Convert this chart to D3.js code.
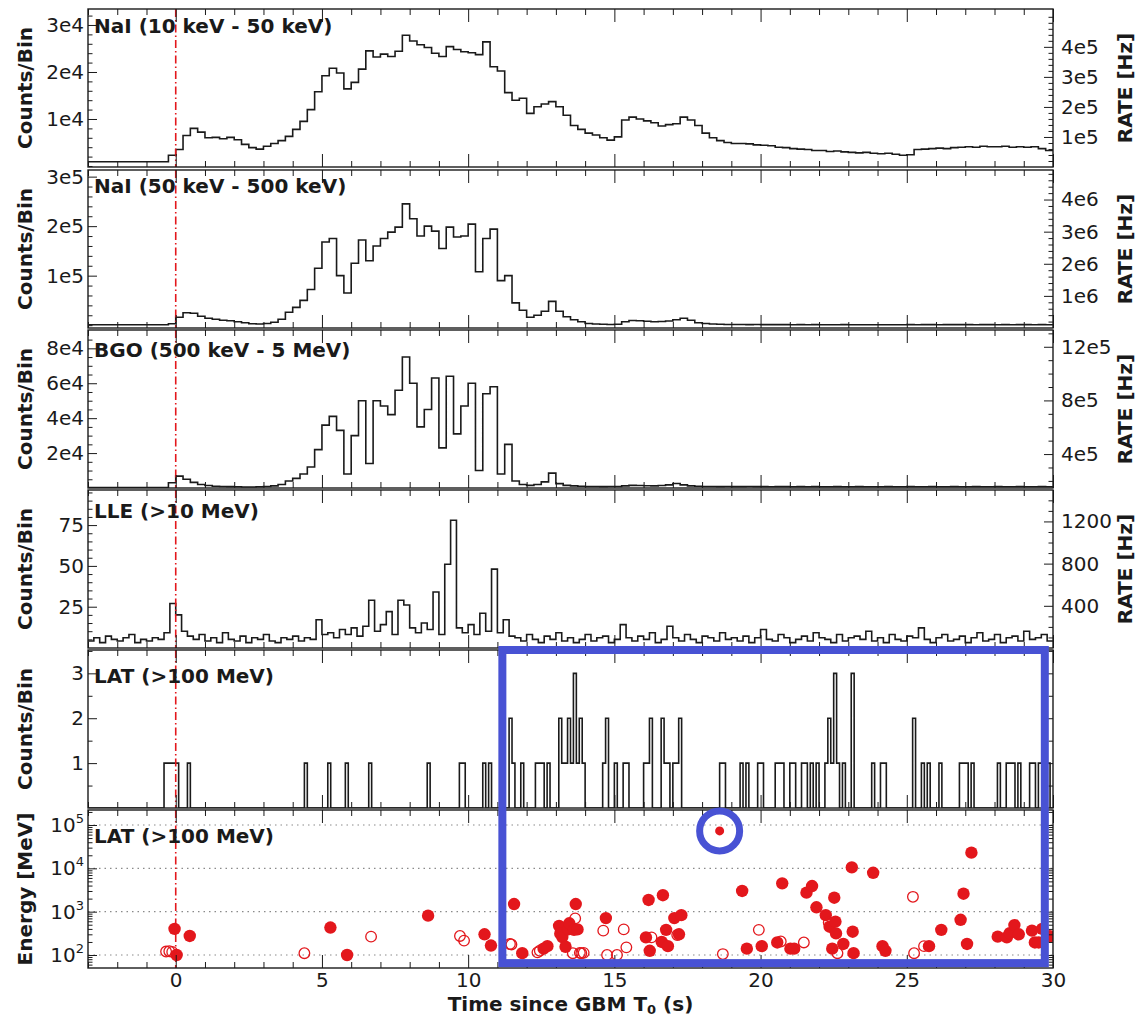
<!DOCTYPE html>
<html>
<head>
<meta charset="utf-8">
<script src="https://cdn.jsdelivr.net/npm/d3@7/dist/d3.min.js"></script>
<style>
  body { margin: 0; background: #fff; }
  text { font-family: "DejaVu Sans", sans-serif; fill: #1a1a1a; }
</style>
</head>
<body>
<svg id="chart" width="1143" height="1020"></svg>
<script>
/////////////////////////////////////////////////////////
// DATA
/////////////////////////////////////////////////////////

// GBM light curves, 0.25 s bins starting at -3 s
var gbmStart = -3, gbmWidth = 0.25;

var nai1Counts = [
  900,900,900,900,900,900,900,900,900,900,900,2300,
  3500,6500,8000,7200,6000,6100,5800,6100,5600,4600,3900,3600,
  4200,4800,5400,6300,7800,9500,12000,15800,19200,20800,19800,16400,
  17800,20600,24500,23200,23800,23300,24400,27800,26600,25800,25200,24000,
  23300,25400,24800,24300,24100,23700,26400,21100,20200,15600,14000,14400,
  11200,12600,13200,13700,12600,10800,8600,7800,7000,6600,6000,5500,
  6200,9800,10400,10000,9600,9200,8500,8800,9000,10400,9800,8600,
  7000,6000,5400,5000,4800,4800,4700,4500,4400,4300,4000,3900,
  3700,3600,3500,3300,3300,3100,3200,3000,2900,2800,2900,2700,
  2600,2700,2500,2300,2400,3500,3600,3700,3800,3700,3900,4000,
  4100,4000,4200,4100,4100,4200,4000,4100,4000,4100,3700,3300
];

var nai2Counts = [
  1000,1000,1000,1000,1000,1000,1000,1000,1000,1000,1000,3000,
  16000,25000,24000,18000,14000,12000,10000,9000,7000,5000,3000,2500,
  3500,6000,12000,26000,36000,50000,72000,115000,168000,175000,100000,65000,
  125000,172000,130000,160000,175000,188000,198000,245000,215000,180000,200000,190000,
  155000,198000,178000,180000,204000,108000,175000,194000,90000,100000,45000,30000,
  16000,20000,28000,48000,28000,17000,11000,7000,3500,2500,1800,1500,
  2000,7000,9500,9000,8000,7000,7500,8500,11000,14000,10000,5000,
  3500,2500,2000,1500,1500,1300,1200,1300,1200,1100,1200,1100,
  1000,1100,1000,1200,1000,900,1000,1100,1000,900,1000,1000,
  900,1000,900,1000,1100,1000,1200,1100,1000,1100,1200,1100,
  1100,1000,1200,1100,1000,1100,1000,1200,1100,1000,1100,1000
];

var bgoCounts = [
  300,300,300,300,300,300,300,300,300,300,300,3000,
  6800,5000,3200,2000,1400,1000,900,800,700,600,600,700,
  900,1200,2000,4000,5500,8000,12000,22000,36000,41000,33000,8000,
  30000,50000,14000,50000,47000,42000,56000,75000,60000,35000,45000,63000,
  23000,64000,31000,47000,60000,10000,54000,58000,8000,25000,4000,2000,
  1500,2000,3500,8500,2500,1500,1200,1000,900,900,800,900,
  900,1200,1500,1400,1300,1200,1400,1800,2600,1800,1200,1000,
  900,900,800,900,800,800,900,800,800,700,800,800,
  700,800,700,800,700,700,800,700,700,800,700,700,
  700,800,700,700,800,700,700,800,700,700,800,700,
  700,800,700,700,800,700,700,800,700,700,800,700
];

// LLE light curve, 0.2 s bins starting at -3 s
var lleStart = -3, lleWidth = 0.2;
var lleCounts = [
  4,6,3,7,5,4,6,8,3,5,4,6,5,9,
  27,20,10,7,5,8,4,
  6,3,9,5,4,7,3,6,5,8,4,3,6,5,7,4,6,5,
  17,8,
  9,6,11,8,12,7,13,
  29,10,14,22,8,29,26,12,9,15,11,34,8,51,78,12,9,14,8,21,10,48,9,17,7,
  6,4,8,5,3,7,5,9,4,6,3,5,8,4,6,7,3,5,
  14,6,4,7,5,9,3,5,13,6,4,8,5,3,7,6,4,9,5,6,
  4,7,3,6,11,5,4,8,6,3,5,7,4,9,6,5,3,8,4,6,
  7,5,10,4,6,3,8,5,4,7,6,12,5,3,6,8,4,5,7,3,
  6,9,4,5,8,3,6,7,4,10,5,6,8,4
];

// LAT photons (>100 MeV): arrival time [s], energy [MeV], filled marker (1) or open (0)
var latTime = [
  -0.33,-0.22,-0.12,-0.04,0.03,0.48,4.4,5.29,5.86,6.68,
  8.63,9.72,9.86,10.56,10.78,11.43,11.48,11.57,11.85,12.37,
  12.45,12.58,12.71,13.11,13.15,13.22,13.33,13.42,13.46,13.58,
  13.62,13.66,13.68,13.74,13.82,13.87,13.95,14.62,14.71,14.75,
  15.09,15.32,15.41,16.08,16.17,16.21,16.27,16.62,16.66,16.77,
  16.83,17.05,17.15,17.21,17.29,18.6,18.71,19.37,19.53,19.94,
  20.04,20.57,20.69,20.74,21.02,21.15,21.48,21.57,21.76,21.91,
  22.23,22.33,22.36,22.45,22.52,22.56,22.58,22.63,22.83,23.12,
  23.15,23.18,23.85,24.17,24.27,25.21,25.25,25.59,25.76,26.18,
  26.84,26.94,27.06,27.21,28.11,28.42,28.52,28.68,28.83,29.28,
  29.38,29.51,29.63,29.88
];
var latEnergy = [
  120,122,118,400,100,275,110,430,100,265,
  810,275,215,300,165,180,175,1500,110,115,
  125,140,160,470,310,260,155,390,540,110,
  380,700,1500,390,112,110,112,365,710,100,
  100,390,150,255,1860,125,255,200,2400,380,
  160,710,290,300,830,73000,105,3000,140,380,
  160,195,205,4500,140,140,195,2750,3900,1260,
  830,560,450,140,2100,590,315,110,180,10500,
  345,110,7900,160,125,2200,110,160,160,380,
  650,2600,180,23000,265,255,320,490,300,365,
  195,195,400,270
];
var latFilled = [
  0,0,0,1,1,1,0,1,1,0,
  1,0,0,1,1,0,0,1,1,0,
  0,1,1,1,1,1,1,1,1,0,
  1,0,1,1,0,0,0,0,1,0,
  0,0,0,1,1,1,0,1,1,1,
  1,1,0,1,1,1,0,1,1,0,
  1,1,0,1,1,1,0,1,1,1,
  1,0,1,1,1,1,1,0,1,1,
  1,1,1,1,1,0,0,0,1,1,
  1,1,1,1,1,1,1,1,1,1,
  1,1,1,1
];
var latBinWidth = 0.1;

// tick values and labels
var nai1Ticks = [1e4, 2e4, 3e4], nai1Labels = ['1e4', '2e4', '3e4'];
var nai1RateTicks = [1e5, 2e5, 3e5, 4e5], nai1RateLabels = ['1e5', '2e5', '3e5', '4e5'];
var nai2Ticks = [1e5, 2e5, 3e5], nai2Labels = ['1e5', '2e5', '3e5'];
var nai2RateTicks = [1e6, 2e6, 3e6, 4e6], nai2RateLabels = ['1e6', '2e6', '3e6', '4e6'];
var bgoTicks = [2e4, 4e4, 6e4, 8e4], bgoLabels = ['2e4', '4e4', '6e4', '8e4'];
var bgoRateTicks = [4e5, 8e5, 12e5], bgoRateLabels = ['4e5', '8e5', '12e5'];
var lleTicks = [25, 50, 75], lleLabels = ['25', '50', '75'];
var lleRateTicks = [400, 800, 1200], lleRateLabels = ['400', '800', '1200'];
var latTicks = [1, 2, 3], latLabels = ['1', '2', '3'];
var energyTicks = [1e2, 1e3, 1e4, 1e5], energyExp = ['2', '3', '4', '5'];
var timeTicks = [0, 5, 10, 15, 20, 25, 30];

/////////////////////////////////////////////////////////
// LAYOUT
/////////////////////////////////////////////////////////
var svg = d3.select('#chart');
var plotLeft = 88, plotRight = 1053;
var panelTops = [9, 170, 330, 490, 650, 810];
var panelH = 158;
var labelDy = [24, 23, 27, 28, 33, 33];
var ink = '#1a1a1a';
var red = '#e3171c';
var blue = '#4852d4';

var x = d3.scaleLinear().domain([-3, 30]).range([plotLeft, plotRight]);
var timeMinor = d3.range(-3, 31, 1).filter(function(d) { return d % 5 !== 0; });

// build step points from counts
function stepPoints(counts, start, w) {
  var pts = counts.map(function(c, i) { return [start + i * w, c]; });
  pts.push([start + counts.length * w, counts[counts.length - 1]]);
  return pts;
}

// LAT counts histogram from the photon list
var latBins = d3.bin().domain([-3, 30]).thresholds(d3.range(-3, 30, latBinWidth))(latTime);
var latPts = latBins.map(function(b) { return [b.x0, b.length]; });
latPts.push([latBins[latBins.length - 1].x1, 0]);

var panels = [
  { title: 'NaI (10 keV - 50 keV)', pts: stepPoints(nai1Counts, gbmStart, gbmWidth),
    yDomain: [-213, 33400], ticks: nai1Ticks, labels: nai1Labels, minor: d3.range(0, 33000, 2000),
    rDomain: [0, 5.26e5], rTicks: nai1RateTicks, rLabels: nai1RateLabels, rMinor: d3.range(0, 5.2e5, 2e4) },
  { title: 'NaI (50 keV - 500 keV)', pts: stepPoints(nai2Counts, gbmStart, gbmWidth),
    yDomain: [-5700, 313400], ticks: nai2Ticks, labels: nai2Labels, minor: d3.range(0, 3.1e5, 2e4),
    rDomain: [0, 4.92e6], rTicks: nai2RateTicks, rLabels: nai2RateLabels, rMinor: d3.range(0, 4.9e6, 2e5) },
  { title: 'BGO (500 keV - 5 MeV)', pts: stepPoints(bgoCounts, gbmStart, gbmWidth),
    yDomain: [0, 90500], ticks: bgoTicks, labels: bgoLabels, minor: d3.range(0, 9e4, 5e3),
    rDomain: [1.47e5, 13.25e5], rTicks: bgoRateTicks, rLabels: bgoRateLabels, rMinor: d3.range(2e5, 13.2e5, 1e5) },
  { title: 'LLE (>10 MeV)', pts: stepPoints(lleCounts, lleStart, lleWidth),
    yDomain: [-0.3, 96.5], ticks: lleTicks, labels: lleLabels, minor: d3.range(5, 96, 5),
    rDomain: [0, 1498], rTicks: lleRateTicks, rLabels: lleRateLabels, rMinor: d3.range(100, 1490, 100) },
  { title: 'LAT (>100 MeV)', pts: latPts,
    yDomain: [0, 3.52], ticks: latTicks, labels: latLabels, minor: [0.5, 1.5, 2.5, 3.5] },
  { title: 'LAT (>100 MeV)', log: true,
    yDomain: [Math.pow(10, 1.70), Math.pow(10, 5.346)], ticks: energyTicks, labels: energyExp }
];

function styleAxis(g) {
  g.attr('font-size', 20).attr('font-family', null).attr('color', ink);
  g.select('.domain').remove();
}

var scales = [];

/////////////////////////////////////////////////////////
// PANELS
/////////////////////////////////////////////////////////
panels.forEach(function(p, i) {
  var g = svg.append('g').attr('transform', 'translate(0,' + panelTops[i] + ')');
  var y = (p.log ? d3.scaleLog() : d3.scaleLinear()).domain(p.yDomain).range([panelH, 0]);
  scales.push(y);

  g.append('clipPath').attr('id', 'clip' + i)
    .append('rect').attr('x', plotLeft).attr('y', 0)
    .attr('width', plotRight - plotLeft).attr('height', panelH);

  var body = g.append('g').attr('clip-path', 'url(#clip' + i + ')');

  if (p.log) {
    // dotted decade grid
    body.selectAll('.grid').data(energyTicks).enter().append('line')
      .attr('x1', plotLeft).attr('x2', plotRight)
      .attr('y1', function(d) { return y(d); }).attr('y2', function(d) { return y(d); })
      .attr('stroke', '#8a8a8a').attr('stroke-width', 1.1).attr('stroke-dasharray', '1.5,4');

    var ev = latTime.map(function(t, k) {
      return { t: t, e: latEnergy[k], f: latFilled[k] };
    });
    body.selectAll('.ev').data(ev).enter().append('circle')
      .attr('cx', function(d) { return x(d.t); })
      .attr('cy', function(d) { return y(d.e); })
      .attr('r', function(d) { return d.e > 5e4 ? 4.5 : (d.f ? 6.2 : 5.3); })
      .attr('fill', function(d) { return d.f ? red : 'none'; })
      .attr('stroke', function(d) { return d.f ? 'none' : red; })
      .attr('stroke-width', 1.3);
  } else {
    var line = d3.line()
      .x(function(d) { return x(d[0]); })
      .y(function(d) { return y(d[1]); })
      .curve(d3.curveStepAfter);
    body.append('path').datum(p.pts)
      .attr('d', line)
      .attr('fill', 'none')
      .attr('stroke', ink)
      .attr('stroke-width', 1.6);
  }

  // trigger time marker
  g.append('line')
    .attr('x1', x(0)).attr('x2', x(0)).attr('y1', 0).attr('y2', panelH)
    .attr('stroke', red).attr('stroke-width', 1.6).attr('stroke-dasharray', '8,3,1.5,3');

  // time ticks, top and bottom, pointing inward
  var isLast = (i === panels.length - 1);
  g.append('g')
    .call(d3.axisTop(x).tickValues(timeTicks).tickSize(-13).tickFormat(''))
    .call(styleAxis);
  g.append('g')
    .call(d3.axisTop(x).tickValues(timeMinor).tickSize(-6).tickFormat(''))
    .call(styleAxis);
  g.append('g').attr('transform', 'translate(0,' + panelH + ')')
    .call(d3.axisBottom(x).tickValues(timeTicks).tickSize(-13).tickPadding(5)
      .tickFormat(isLast ? d3.format('d') : ''))
    .call(styleAxis);
  g.append('g').attr('transform', 'translate(0,' + panelH + ')')
    .call(d3.axisBottom(x).tickValues(timeMinor).tickSize(-6).tickFormat(''))
    .call(styleAxis);

  // left axis
  if (p.log) {
    var minorLog = [];
    [10, 100, 1000, 10000, 100000].forEach(function(dec) {
      for (var m = 2; m <= 9; m++) minorLog.push(dec * m);
    });
    minorLog = minorLog.filter(function(d) { return d >= p.yDomain[0] && d <= p.yDomain[1]; });
    var la = g.append('g').attr('transform', 'translate(' + plotLeft + ',0)')
      .call(d3.axisLeft(y).tickValues(p.ticks).tickSize(-9).tickPadding(4).tickFormat(''))
      .call(styleAxis);
    la.selectAll('.tick text').each(function(d, k) {
      var t = d3.select(this);
      t.text('10');
      t.append('tspan').attr('dy', -9).attr('font-size', 13).text(p.labels[k]);
    });
    g.append('g').attr('transform', 'translate(' + plotLeft + ',0)')
      .call(d3.axisLeft(y).tickValues(minorLog).tickSize(-4.5).tickFormat(''))
      .call(styleAxis);
    g.append('g').attr('transform', 'translate(' + plotRight + ',0)')
      .call(d3.axisRight(y).tickValues(p.ticks).tickSize(-9).tickFormat(''))
      .call(styleAxis);
    g.append('g').attr('transform', 'translate(' + plotRight + ',0)')
      .call(d3.axisRight(y).tickValues(minorLog).tickSize(-4.5).tickFormat(''))
      .call(styleAxis);
  } else {
    g.append('g').attr('transform', 'translate(' + plotLeft + ',0)')
      .call(d3.axisLeft(y).tickValues(p.ticks).tickSize(-9).tickPadding(4)
        .tickFormat(function(d, k) { return p.labels[k]; }))
      .call(styleAxis);
    g.append('g').attr('transform', 'translate(' + plotLeft + ',0)')
      .call(d3.axisLeft(y).tickValues(p.minor.filter(function(d) {
        return p.ticks.indexOf(d) < 0 && d > p.yDomain[0] && d < p.yDomain[1];
      })).tickSize(-4.5).tickFormat(''))
      .call(styleAxis);
  }

  // right axis with rate scale
  if (p.rDomain) {
    var yr = d3.scaleLinear().domain(p.rDomain).range([panelH, 0]);
    g.append('g').attr('transform', 'translate(' + plotRight + ',0)')
      .call(d3.axisRight(yr).tickValues(p.rTicks).tickSize(-9).tickPadding(8)
        .tickFormat(function(d, k) { return p.rLabels[k]; }))
      .call(styleAxis);
    g.append('g').attr('transform', 'translate(' + plotRight + ',0)')
      .call(d3.axisRight(yr).tickValues(p.rMinor.filter(function(d) {
        return p.rTicks.indexOf(d) < 0 && d > p.rDomain[0];
      })).tickSize(-4.5).tickFormat(''))
      .call(styleAxis);
    g.append('text')
      .attr('transform', 'translate(1125,' + (panelH / 2) + ') rotate(-90)')
      .attr('text-anchor', 'middle').attr('dominant-baseline', 'central')
      .attr('font-size', 20).attr('font-weight', 'bold')
      .text('RATE [Hz]');
  } else if (!p.log) {
    g.append('g').attr('transform', 'translate(' + plotRight + ',0)')
      .call(d3.axisRight(y).tickValues(p.ticks).tickSize(-9).tickFormat(''))
      .call(styleAxis);
    g.append('g').attr('transform', 'translate(' + plotRight + ',0)')
      .call(d3.axisRight(y).tickValues(p.minor).tickSize(-4.5).tickFormat(''))
      .call(styleAxis);
  }

  // frame
  g.append('rect')
    .attr('x', plotLeft).attr('y', 0)
    .attr('width', plotRight - plotLeft).attr('height', panelH)
    .attr('fill', 'none').attr('stroke', ink).attr('stroke-width', 1.4);

  // panel label
  g.append('text')
    .attr('x', plotLeft + 6).attr('y', labelDy[i])
    .attr('font-size', 20).attr('font-weight', 'bold')
    .text(p.title);

  // left axis label
  g.append('text')
    .attr('transform', 'translate(25,' + (panelH / 2) + ') rotate(-90)')
    .attr('text-anchor', 'middle').attr('dominant-baseline', 'central')
    .attr('font-size', 20).attr('font-weight', 'bold')
    .text(p.log ? 'Energy [MeV]' : 'Counts/Bin');
});

// x axis title
var xt = svg.append('text')
  .attr('x', (plotLeft + plotRight) / 2).attr('y', 1011)
  .attr('text-anchor', 'middle').attr('font-size', 20).attr('font-weight', 'bold');
xt.append('tspan').text('Time since GBM T');
xt.append('tspan').attr('font-size', 13).attr('dy', 3).text('0');
xt.append('tspan').attr('dy', -3).text(' (s)');

/////////////////////////////////////////////////////////
// ANNOTATIONS
/////////////////////////////////////////////////////////
var boxT0 = 11.17, boxT1 = 29.72, boxEmin = 65;
var boxTop = panelTops[4] + scales[4](3.52);
var boxBottom = panelTops[5] + scales[5](boxEmin);
svg.append('rect')
  .attr('x', x(boxT0)).attr('y', boxTop)
  .attr('width', x(boxT1) - x(boxT0)).attr('height', boxBottom - boxTop)
  .attr('fill', 'none').attr('stroke', blue).attr('stroke-width', 8);

var hiIndex = latEnergy.indexOf(d3.max(latEnergy));
svg.append('circle')
  .attr('cx', x(latTime[hiIndex]))
  .attr('cy', panelTops[5] + scales[5](latEnergy[hiIndex]))
  .attr('r', 20)
  .attr('fill', 'none').attr('stroke', blue).attr('stroke-width', 7);
</script>
</body>
</html>
